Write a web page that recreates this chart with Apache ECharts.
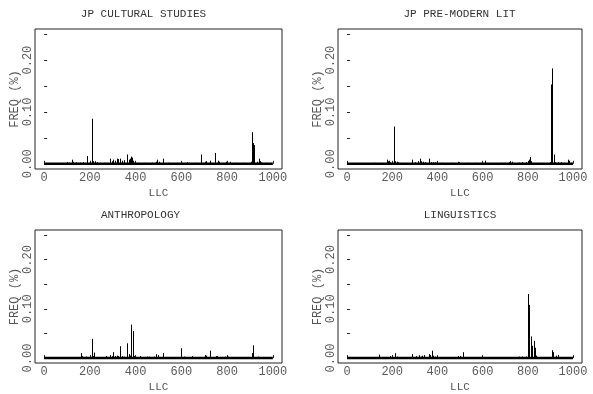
<!DOCTYPE html>
<html>
<head>
<meta charset="utf-8">
<script src="https://cdn.jsdelivr.net/npm/echarts@6/dist/echarts.min.js"></script>
<style>html,body{margin:0;padding:0;background:#fff}#c{width:593px;height:394px}</style>
</head>
<body>
<div id="c"></div>
<script>
// ---- data ----
var titles = ["JP CULTURAL STUDIES", "JP PRE-MODERN LIT", "ANTHROPOLOGY", "LINGUISTICS"];
var xTickLabels = [0, 200, 400, 600, 800, 1000];
var yTickLabels = [0, 0.1, 0.2];
var yTicks = [0, 0.05, 0.1, 0.15, 0.2, 0.25];
var baseX = [0, 1000];
var baseY = [0, 0];

var csLLC = [100,110,120,128,140,155,170,186,200,208,212,221,230,260,286,295,303,310,318,325,332,340,350,362,370,376,381,384,390,410,440,470,488,494,500,519,540,580,626,660,688,702,707,723,746,758,765,793,811,840,870,905,910,913,915,918,930,940,945,950,970,990];
var csFreq = [0.003,0.002,0.008,0.004,0.003,0.002,0.003,0.015,0.004,0.087,0.005,0.005,0.003,0.002,0.010,0.005,0.008,0.006,0.010,0.009,0.010,0.006,0.007,0.018,0.008,0.010,0.014,0.012,0.006,0.002,0.002,0.002,0.004,0.008,0.004,0.010,0.002,0.002,0.003,0.002,0.018,0.004,0.005,0.006,0.021,0.006,0.004,0.004,0.004,0.002,0.002,0.004,0.061,0.040,0.039,0.036,0.004,0.010,0.005,0.003,0.002,0.002];

var pmLLC = [121,175,183,187,192,209,213,219,225,288,300,314,321,328,336,345,361,372,380,388,394,420,460,489,495,530,570,610,680,700,717,723,730,760,774,790,800,806,810,815,900,904,909,914,920,934,945,978,983,990];
var pmFreq = [0.002,0.008,0.005,0.006,0.003,0.072,0.005,0.004,0.003,0.008,0.003,0.005,0.010,0.005,0.004,0.003,0.010,0.003,0.003,0.003,0.002,0.002,0.002,0.004,0.003,0.002,0.002,0.006,0.002,0.002,0.003,0.005,0.004,0.002,0.003,0.003,0.005,0.008,0.013,0.005,0.003,0.153,0.184,0.018,0.003,0.003,0.003,0.008,0.006,0.002];

var anLLC = [120,140,161,165,183,200,208,212,220,245,271,289,295,301,310,318,324,330,340,350,362,370,376,381,389,395,421,450,460,480,491,497,505,519,540,597,611,645,680,702,707,726,750,755,770,790,799,805,840,880,908,912,934,960];
var anFreq = [0.002,0.002,0.010,0.004,0.003,0.003,0.039,0.004,0.011,0.002,0.004,0.006,0.004,0.012,0.004,0.005,0.004,0.024,0.004,0.003,0.030,0.008,0.005,0.068,0.055,0.004,0.004,0.003,0.003,0.003,0.008,0.006,0.002,0.010,0.002,0.020,0.003,0.004,0.002,0.006,0.005,0.015,0.004,0.004,0.002,0.003,0.005,0.003,0.002,0.002,0.010,0.026,0.003,0.002];

var liLLC = [110,143,190,212,222,260,289,304,318,326,333,339,362,368,375,382,390,430,493,499,515,540,600,680,720,759,774,790,800,803,807,813,818,826,832,838,860,908,913,927,932,960];
var liFreq = [0.002,0.007,0.004,0.010,0.003,0.002,0.008,0.004,0.006,0.003,0.005,0.006,0.008,0.006,0.015,0.005,0.003,0.002,0.004,0.004,0.012,0.002,0.002,0.002,0.002,0.003,0.003,0.003,0.130,0.036,0.108,0.044,0.025,0.035,0.021,0.005,0.002,0.016,0.012,0.005,0.006,0.002];

// ---- layout ----
var panels = [
  {llc: csLLC, freq: csFreq, grid: {left: 35, top: 29, width: 247, height: 140}, tx: 143.5, ty: 9},
  {llc: pmLLC, freq: pmFreq, grid: {left: 338, top: 29, width: 244, height: 140}, tx: 459.5, ty: 9},
  {llc: anLLC, freq: anFreq, grid: {left: 35, top: 230, width: 247, height: 140}, tx: 140.5, ty: 210},
  {llc: liLLC, freq: liFreq, grid: {left: 338, top: 230, width: 244, height: 140}, tx: 460, ty: 210}
];
var FONT = "'Liberation Mono', 'Courier New', monospace";

var option = {
  animation: false,
  backgroundColor: '#fff',
  title: [], grid: [], xAxis: [], yAxis: [], series: []
};

panels.forEach(function (p, i) {
  option.title.push({
    text: titles[i], left: p.tx, top: p.ty, textAlign: 'center', padding: 0,
    textStyle: {fontFamily: FONT, fontSize: 11, fontWeight: 'normal', color: '#333'}
  });
  option.grid.push(Object.assign({show: true, borderColor: '#222', borderWidth: 1, backgroundColor: 'transparent', containLabel: false}, p.grid));
  option.xAxis.push({
    gridIndex: i, type: 'value', min: -40, max: 1040,
    splitLine: {show: false}, axisLine: {show: false},
    axisTick: {show: true, inside: true, length: 3, customValues: xTickLabels, lineStyle: {color: '#222'}},
    axisLabel: {customValues: xTickLabels, margin: 3, fontFamily: FONT, fontSize: 12, color: '#5a5a5a',
      formatter: function (v) { return String(v); }},
    name: 'LLC', nameLocation: 'middle', nameGap: 19, nameMoveOverlap: false,
    nameTextStyle: {fontFamily: FONT, fontSize: 11, color: '#555'}
  });
  option.yAxis.push({
    gridIndex: i, type: 'value', min: -0.01, max: 0.26,
    splitLine: {show: false}, axisLine: {show: false},
    axisTick: {show: true, inside: true, length: 3, customValues: yTicks, lineStyle: {color: '#222'}},
    axisLabel: {customValues: yTickLabels, rotate: 90, margin: 1, fontFamily: FONT, fontSize: 12, color: '#5a5a5a',
      formatter: function (v) { return Number(v).toFixed(2); }},
    name: 'FREQ (%)', nameLocation: 'middle', nameGap: 14, nameMoveOverlap: false,
    nameTextStyle: {fontFamily: FONT, fontSize: 12, color: '#555'}
  });
  option.series.push({
    type: 'line', xAxisIndex: i, yAxisIndex: i, symbol: 'none',
    data: baseX.map(function (x, k) { return [x, baseY[k]]; }),
    lineStyle: {color: '#000', width: 2.5}, z: 3
  });
  option.series.push({
    type: 'custom', xAxisIndex: i, yAxisIndex: i, z: 4,
    data: p.llc.map(function (x, k) { return [x, p.freq[k]]; }),
    renderItem: function (params, api) {
      var p0 = api.coord([api.value(0), 0]);
      var p1 = api.coord([api.value(0), api.value(1)]);
      var x = Math.round(p0[0]) + 0.5;
      return {type: 'line', shape: {x1: x, y1: p0[1], x2: x, y2: p1[1]},
        style: {stroke: '#000', lineWidth: 1}};
    }
  });
});

var chart = echarts.init(document.getElementById('c'), null, {renderer: 'canvas'});
chart.setOption(option);
</script>
</body>
</html>
